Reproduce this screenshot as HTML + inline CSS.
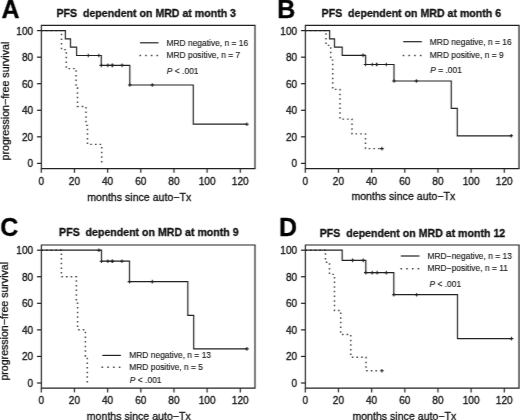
<!DOCTYPE html>
<html><head><meta charset="utf-8"><style>
html,body{margin:0;padding:0;background:#fff;}
body{width:520px;height:420px;overflow:hidden;}
svg{display:block;}
#wrap{width:520px;height:420px;}
text{font-family:"Liberation Sans",sans-serif;fill:#111;stroke:#111;stroke-width:0.3;}
.tk{font-size:10.15px;}
.lab{font-size:10.6px;}
.tit{font-size:10.6px;font-weight:bold;}
.let{font-size:25px;font-weight:bold;fill:#000;}
.lg{font-size:8.45px;stroke-width:0.12px;}
.it{font-style:italic;}
.ax{fill:none;stroke:#222;stroke-width:1.2;}
.cv{fill:none;stroke:#222;stroke-width:1.2;}
.cs{fill:none;stroke:#222;stroke-width:1.1;}
.dt{fill:none;stroke:#3a3a3a;stroke-width:1.4;stroke-dasharray:1.5 3.15;}
.ld{fill:none;stroke:#3a3a3a;stroke-width:1.4;}
</style></head><body>
<div id="wrap"><svg width="520" height="420" viewBox="0 0 520 420">
<defs><filter id="bl" x="0" y="0" width="520" height="420" filterUnits="userSpaceOnUse" color-interpolation-filters="sRGB" primitiveUnits="userSpaceOnUse"><feConvolveMatrix order="3" kernelMatrix="0 0 0 0.12 0.76 0.12 0 0 0" divisor="1" edgeMode="duplicate" preserveAlpha="false"/></filter></defs><g filter="url(#bl)"><rect width="520" height="420" fill="#fff"/>
<path d="M41.4 25.4 H255 V168.6 H41.4 Z" class="ax"/>
<path d="M37 163.4 H41.4" class="ax"/>
<text x="33.2" y="167" class="tk" text-anchor="end">0</text>
<path d="M37 136.84 H41.4" class="ax"/>
<text x="33.2" y="141" class="tk" text-anchor="end">20</text>
<path d="M37 110.28 H41.4" class="ax"/>
<text x="33.2" y="114" class="tk" text-anchor="end">40</text>
<path d="M37 83.72 H41.4" class="ax"/>
<text x="33.2" y="88" class="tk" text-anchor="end">60</text>
<path d="M37 57.16 H41.4" class="ax"/>
<text x="33.2" y="61" class="tk" text-anchor="end">80</text>
<path d="M37 30.6 H41.4" class="ax"/>
<text x="33.2" y="35" class="tk" text-anchor="end">100</text>
<path d="M41.3 168.6 V172.8" class="ax"/>
<text x="41.3" y="185" class="tk" text-anchor="middle">0</text>
<path d="M74.47 168.6 V172.8" class="ax"/>
<text x="74.47" y="185" class="tk" text-anchor="middle">20</text>
<path d="M107.63 168.6 V172.8" class="ax"/>
<text x="107.63" y="185" class="tk" text-anchor="middle">40</text>
<path d="M140.8 168.6 V172.8" class="ax"/>
<text x="140.8" y="185" class="tk" text-anchor="middle">60</text>
<path d="M173.96 168.6 V172.8" class="ax"/>
<text x="173.96" y="185" class="tk" text-anchor="middle">80</text>
<path d="M207.13 168.6 V172.8" class="ax"/>
<text x="207.13" y="185" class="tk" text-anchor="middle">100</text>
<path d="M240.3 168.6 V172.8" class="ax"/>
<text x="240.3" y="185" class="tk" text-anchor="middle">120</text>
<text x="1.4" y="18" class="let">A</text>
<text x="56.5" y="17" class="tit">PFS&#160; dependent on MRD at month 3</text>
<text transform="translate(8.5 160.4) rotate(-90)" class="lab">progression&#8722;free survival</text>
<text x="87.3" y="201" class="lab">months since auto&#8722;Tx</text>
<path d="M41.4 30.6 H61.5 V49.6 H66.3 V68.6 H76.1 V87.6 H77.5 V106.5 H86 V125.4 H87.5 V144.4 H101.7 V163.4" class="dt"/>
<path d="M41.4 30.6 H65.4 V38.9 H70.5 V47.2 H76.6 V55.5 H101.3 V65.4 H129.8 V85 H193.3 V124.2 H246.9" class="cv"/>
<path d="M86.5 55.5 h3.6 M88.3 53.7 v3.6 M97 55.5 h3.6 M98.8 53.7 v3.6 M99.5 65.4 h3.6 M101.3 63.6 v3.6 M106.1 65.4 h3.6 M107.9 63.6 v3.6 M110.3 65.4 h3.6 M112.1 63.6 v3.6 M110.8 65.4 h3.6 M112.6 63.6 v3.6 M120.3 65.4 h3.6 M122.1 63.6 v3.6 M128 85 h3.6 M129.8 83.2 v3.6 M150.5 85 h3.6 M152.3 83.2 v3.6 M245.1 124.2 h3.6 M246.9 122.4 v3.6" class="cs"/>
<path d="M140 42.8 H158.5" class="cv"/>
<path d="M139.55 55.5 h1.5 M145.22 55.5 h1.5 M150.88 55.5 h1.5 M156.55 55.5 h1.5" class="ld"/>
<text x="166.4" y="46" class="lg">MRD negative, n = 16</text>
<text x="166.4" y="58" class="lg">MRD positive, n = 7</text>
<text x="166.85" y="74" class="lg"><tspan class="it">P</tspan> &lt; .001</text>
<path d="M305.4 25.4 H519 V168.6 H305.4 Z" class="ax"/>
<path d="M301 163.4 H305.4" class="ax"/>
<text x="297.2" y="167" class="tk" text-anchor="end">0</text>
<path d="M301 136.84 H305.4" class="ax"/>
<text x="297.2" y="141" class="tk" text-anchor="end">20</text>
<path d="M301 110.28 H305.4" class="ax"/>
<text x="297.2" y="114" class="tk" text-anchor="end">40</text>
<path d="M301 83.72 H305.4" class="ax"/>
<text x="297.2" y="88" class="tk" text-anchor="end">60</text>
<path d="M301 57.16 H305.4" class="ax"/>
<text x="297.2" y="61" class="tk" text-anchor="end">80</text>
<path d="M301 30.6 H305.4" class="ax"/>
<text x="297.2" y="35" class="tk" text-anchor="end">100</text>
<path d="M305.3 168.6 V172.8" class="ax"/>
<text x="305.3" y="185" class="tk" text-anchor="middle">0</text>
<path d="M338.47 168.6 V172.8" class="ax"/>
<text x="338.47" y="185" class="tk" text-anchor="middle">20</text>
<path d="M371.63 168.6 V172.8" class="ax"/>
<text x="371.63" y="185" class="tk" text-anchor="middle">40</text>
<path d="M404.8 168.6 V172.8" class="ax"/>
<text x="404.8" y="185" class="tk" text-anchor="middle">60</text>
<path d="M437.96 168.6 V172.8" class="ax"/>
<text x="437.96" y="185" class="tk" text-anchor="middle">80</text>
<path d="M471.13 168.6 V172.8" class="ax"/>
<text x="471.13" y="185" class="tk" text-anchor="middle">100</text>
<path d="M504.3 168.6 V172.8" class="ax"/>
<text x="504.3" y="185" class="tk" text-anchor="middle">120</text>
<text x="277.3" y="18" class="let">B</text>
<text x="321.6" y="17" class="tit">PFS&#160; dependent on MRD at month 6</text>
<text x="351.4" y="200" class="lab">months since auto&#8722;Tx</text>
<path d="M305.4 30.6 H326 V45.4 H330.7 V60.1 H332.7 V89.4 H340 V119.1 H352 V133.9 H365.5 V148.6 H380" class="dt"/>
<path d="M380.1 148.6 h3.6 M381.9 146.8 v3.6" class="cs"/>
<path d="M305.4 30.6 H329.6 V38.9 H334.5 V47.1 H342.2 V55.4 H365.6 V64.5 H394 V81 H451.3 V108.4 H457.3 V135.8 H511.3" class="cv"/>
<path d="M361.3 55.4 h3.6 M363.1 53.6 v3.6 M363.8 64.5 h3.6 M365.6 62.7 v3.6 M370.5 64.5 h3.6 M372.3 62.7 v3.6 M374.6 64.5 h3.6 M376.4 62.7 v3.6 M375.1 64.5 h3.6 M376.9 62.7 v3.6 M384.5 64.5 h3.6 M386.3 62.7 v3.6 M392.2 81 h3.6 M394 79.2 v3.6 M414.6 81 h3.6 M416.4 79.2 v3.6 M509.5 135.8 h3.6 M511.3 134 v3.6" class="cs"/>
<path d="M403.2 41.7 H421.8" class="cv"/>
<path d="M402.75 55.5 h1.5 M408.48 55.5 h1.5 M414.22 55.5 h1.5 M419.95 55.5 h1.5" class="ld"/>
<text x="429.8" y="45" class="lg">MRD negative, n = 16</text>
<text x="429.8" y="58" class="lg">MRD positive, n = 9</text>
<text x="430.2" y="73" class="lg"><tspan class="it">P</tspan> = .001</text>
<path d="M41.4 245 H255 V388.2 H41.4 Z" class="ax"/>
<path d="M37 383 H41.4" class="ax"/>
<text x="33.2" y="387" class="tk" text-anchor="end">0</text>
<path d="M37 356.44 H41.4" class="ax"/>
<text x="33.2" y="360" class="tk" text-anchor="end">20</text>
<path d="M37 329.88 H41.4" class="ax"/>
<text x="33.2" y="334" class="tk" text-anchor="end">40</text>
<path d="M37 303.32 H41.4" class="ax"/>
<text x="33.2" y="307" class="tk" text-anchor="end">60</text>
<path d="M37 276.76 H41.4" class="ax"/>
<text x="33.2" y="281" class="tk" text-anchor="end">80</text>
<path d="M37 250.2 H41.4" class="ax"/>
<text x="33.2" y="254" class="tk" text-anchor="end">100</text>
<path d="M41.3 388.2 V392.4" class="ax"/>
<text x="41.3" y="404" class="tk" text-anchor="middle">0</text>
<path d="M74.47 388.2 V392.4" class="ax"/>
<text x="74.47" y="404" class="tk" text-anchor="middle">20</text>
<path d="M107.63 388.2 V392.4" class="ax"/>
<text x="107.63" y="404" class="tk" text-anchor="middle">40</text>
<path d="M140.8 388.2 V392.4" class="ax"/>
<text x="140.8" y="404" class="tk" text-anchor="middle">60</text>
<path d="M173.96 388.2 V392.4" class="ax"/>
<text x="173.96" y="404" class="tk" text-anchor="middle">80</text>
<path d="M207.13 388.2 V392.4" class="ax"/>
<text x="207.13" y="404" class="tk" text-anchor="middle">100</text>
<path d="M240.3 388.2 V392.4" class="ax"/>
<text x="240.3" y="404" class="tk" text-anchor="middle">120</text>
<text x="0.2" y="236" class="let">C</text>
<text x="59.1" y="236" class="tit">PFS&#160; dependent on MRD at month 9</text>
<text transform="translate(7.5 380.6) rotate(-90)" class="lab">progression&#8722;free survival</text>
<text x="86.8" y="420" class="lab">months since auto&#8722;Tx</text>
<path d="M41.4 250.2 H61.4 V276.7 H76.4 V303.2 H77.6 V329.7 H85.4 V356.2 H87.3 V382.8" class="dt"/>
<path d="M41.4 250.2 H101.5 V261.2 H129.5 V281.6 H187.8 V315.4 H193.7 V348.9 H246.9" class="cv"/>
<path d="M97.1 250.2 h3.6 M98.9 248.4 v3.6 M99.7 261.2 h3.6 M101.5 259.4 v3.6 M106.1 261.2 h3.6 M107.9 259.4 v3.6 M110.3 261.2 h3.6 M112.1 259.4 v3.6 M110.8 261.2 h3.6 M112.6 259.4 v3.6 M120.1 261.2 h3.6 M121.9 259.4 v3.6 M127.7 281.6 h3.6 M129.5 279.8 v3.6 M150.5 281.6 h3.6 M152.3 279.8 v3.6 M245.1 348.9 h3.6 M246.9 347.1 v3.6" class="cs"/>
<path d="M102.3 355.4 H120.9" class="cv"/>
<path d="M101.55 367.2 h1.5 M107.32 367.2 h1.5 M113.08 367.2 h1.5 M118.85 367.2 h1.5" class="ld"/>
<text x="129.2" y="358" class="lg">MRD negative, n = 13</text>
<text x="129.2" y="370" class="lg">MRD positive, n = 5</text>
<text x="129.85" y="383" class="lg"><tspan class="it">P</tspan> &lt; .001</text>
<path d="M305.4 245 H519 V388.2 H305.4 Z" class="ax"/>
<path d="M301 383 H305.4" class="ax"/>
<text x="297.2" y="387" class="tk" text-anchor="end">0</text>
<path d="M301 356.44 H305.4" class="ax"/>
<text x="297.2" y="360" class="tk" text-anchor="end">20</text>
<path d="M301 329.88 H305.4" class="ax"/>
<text x="297.2" y="334" class="tk" text-anchor="end">40</text>
<path d="M301 303.32 H305.4" class="ax"/>
<text x="297.2" y="307" class="tk" text-anchor="end">60</text>
<path d="M301 276.76 H305.4" class="ax"/>
<text x="297.2" y="281" class="tk" text-anchor="end">80</text>
<path d="M301 250.2 H305.4" class="ax"/>
<text x="297.2" y="254" class="tk" text-anchor="end">100</text>
<path d="M305.3 388.2 V392.4" class="ax"/>
<text x="305.3" y="404" class="tk" text-anchor="middle">0</text>
<path d="M338.47 388.2 V392.4" class="ax"/>
<text x="338.47" y="404" class="tk" text-anchor="middle">20</text>
<path d="M371.63 388.2 V392.4" class="ax"/>
<text x="371.63" y="404" class="tk" text-anchor="middle">40</text>
<path d="M404.8 388.2 V392.4" class="ax"/>
<text x="404.8" y="404" class="tk" text-anchor="middle">60</text>
<path d="M437.96 388.2 V392.4" class="ax"/>
<text x="437.96" y="404" class="tk" text-anchor="middle">80</text>
<path d="M471.13 388.2 V392.4" class="ax"/>
<text x="471.13" y="404" class="tk" text-anchor="middle">100</text>
<path d="M504.3 388.2 V392.4" class="ax"/>
<text x="504.3" y="404" class="tk" text-anchor="middle">120</text>
<text x="278.9" y="236" class="let">D</text>
<text x="319.8" y="237" class="tit">PFS&#160; dependent on MRD at month 12</text>
<text x="352.4" y="420" class="lab">months since auto&#8722;Tx</text>
<path d="M305.4 250.2 H325.5 V262.3 H329.5 V274.4 H334.5 V310.5 H340.7 V334.5 H350.8 V357.2 H366 V370.8 H380" class="dt"/>
<path d="M380.1 370.8 h3.6 M381.9 369 v3.6" class="cs"/>
<path d="M305.4 250.2 H342.2 V260.4 H365.8 V272.6 H393.8 V294.7 H457.5 V338.6 H511.5" class="cv"/>
<path d="M350.8 260.4 h3.6 M352.6 258.6 v3.6 M361.4 260.4 h3.6 M363.2 258.6 v3.6 M364 272.6 h3.6 M365.8 270.8 v3.6 M370.4 272.6 h3.6 M372.2 270.8 v3.6 M375.3 272.6 h3.6 M377.1 270.8 v3.6 M384.5 272.6 h3.6 M386.3 270.8 v3.6 M392 294.7 h3.6 M393.8 292.9 v3.6 M414.8 294.7 h3.6 M416.6 292.9 v3.6 M509.7 338.6 h3.6 M511.5 336.8 v3.6" class="cs"/>
<path d="M400.8 256 H419.5" class="cv"/>
<path d="M400.55 268.75 h1.5 M406.25 268.75 h1.5 M411.95 268.75 h1.5 M417.65 268.75 h1.5" class="ld"/>
<text x="427.5" y="259" class="lg">MRD&#8722;negative, n = 13</text>
<text x="427.5" y="271" class="lg">MRD&#8722;positive, n = 11</text>
<text x="429.5" y="287" class="lg"><tspan class="it">P</tspan> &lt; .001</text>
</g></svg></div>
</body></html>
